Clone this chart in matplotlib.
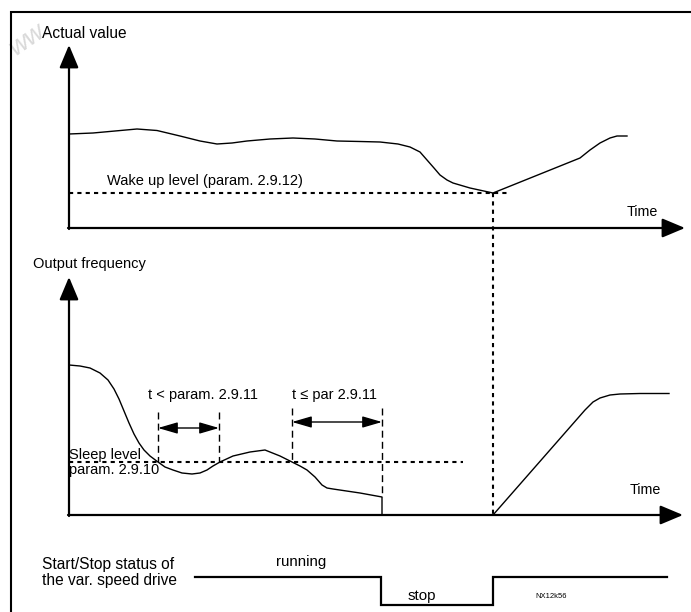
import matplotlib
matplotlib.use("Agg")
import matplotlib.pyplot as plt

plt.rcParams['font.family'] = ['Liberation Sans', 'DejaVu Sans']

# ---------------- data (diagram coordinates, pixel-like units) ----------------
# Actual value curve (top panel)
actual_x = [69, 93, 115, 137, 157, 180, 200, 217, 232, 247, 270, 293, 315, 337, 360, 380,
            398, 410, 420, 427, 434, 440, 447, 453, 470, 493, 580, 590, 600, 610, 617, 627]
actual_y = [134, 133, 131, 129, 130.5, 136, 141, 144, 143, 141, 139, 138, 139, 141, 141.5, 142,
            144, 147, 152, 160, 168, 175, 180, 183, 188, 193, 158, 150, 143, 138, 136, 136]
wake_level = 193
wake_line_end = 510
wake_x = 493

# Output frequency curve (bottom panel)
freq_x = [69, 80, 90, 100, 108, 114, 119, 124, 129, 134, 139, 144, 150, 158, 165, 173, 182,
          192, 200, 207, 213, 220, 233, 250, 265, 280, 292, 300, 307, 315, 322, 327, 333, 360,
          382, 382]
freq_y = [365, 366, 368, 373, 380, 389, 399, 411, 423, 434, 443, 450, 456, 462, 467, 470,
          473, 474, 473, 470, 466, 462, 456, 452, 450, 456, 462, 466, 470, 477, 485, 488, 489,
          493, 497, 515]
sleep_level = 462
sleep_line_end = 463

# Restart ramp after wake-up
ramp_x = [493, 585, 593, 600, 610, 620, 640, 669]
ramp_y = [515, 410, 402, 398, 395, 394, 393.5, 393.5]

# Timing markers
marker_x = [158, 219, 292, 382]
marker_top = [412, 412, 408, 408]
marker_bottom = [462, 462, 462, 497]
arrow1_y = 428
arrow2_y = 422

# Start/Stop status
status_x = [195, 381, 381, 493, 493, 667]
status_y = [577, 577, 605, 605, 577, 577]

# ---------------- figure ----------------
fig = plt.figure(figsize=(6.91, 6.12), dpi=100)
ax = fig.add_axes([0, 0, 1, 1])
ax.set_xlim(0, 691)
ax.set_ylim(612, 0)
ax.axis('off')

# watermark
ax.text(5, 60, "ww.", fontsize=19, color='#d9d9d9', rotation=35, style='italic',
        ha='left', va='bottom', zorder=0)

# frame
ax.plot([11, 11, 691], [612, 12, 12], color='black', lw=1.5, solid_joinstyle='miter')

axis_kw = dict(arrowstyle='-|>,head_length=1.0,head_width=0.42', mutation_scale=14,
               color='black', lw=1.6, shrinkA=0, shrinkB=0)

# top panel axes
ax.annotate('', xy=(69, 45), xytext=(69, 229), arrowprops=axis_kw)
ax.annotate('', xy=(685, 228), xytext=(68, 228), arrowprops=axis_kw)

ax.plot(actual_x, actual_y, color='black', lw=1.0)
ax.plot([69, wake_line_end], [wake_level, wake_level], color='black', lw=1.5,
        linestyle=(0, (2, 2)))
ax.plot([wake_x, wake_x], [wake_level, 515], color='black', lw=1.5, linestyle=(0, (2, 2)))

ax.text(42, 34, "Actual value", fontsize=11.2, ha='left', va='center')
ax.text(107, 181, "Wake up level (param. 2.9.12)", fontsize=10.5, ha='left', va='center')
ax.text(627, 212, "Time", fontsize=10.3, ha='left', va='center')

# bottom panel axes
ax.annotate('', xy=(69, 277), xytext=(69, 516), arrowprops=axis_kw)
ax.annotate('', xy=(683, 515), xytext=(68, 515), arrowprops=axis_kw)

ax.plot(freq_x, freq_y, color='black', lw=1.0)
ax.plot(ramp_x, ramp_y, color='black', lw=1.0)
ax.plot([69, sleep_line_end], [sleep_level, sleep_level], color='black', lw=1.5,
        linestyle=(0, (2, 2)))

for mx, t, b in zip(marker_x, marker_top, marker_bottom):
    ax.plot([mx, mx], [t, b], color='black', lw=1.0, linestyle=(0, (5, 3)))

dbl_kw = dict(arrowstyle='<|-|>,head_length=1.2,head_width=0.35', mutation_scale=10,
              color='black', lw=1.0, shrinkA=0, shrinkB=0)
ax.annotate('', xy=(marker_x[0], arrow1_y), xytext=(marker_x[1], arrow1_y), arrowprops=dbl_kw)
ax.annotate('', xy=(marker_x[2], arrow2_y), xytext=(marker_x[3], arrow2_y), arrowprops=dbl_kw)

ax.text(33, 264, "Output frequency", fontsize=10.5, ha='left', va='center')
ax.text(148, 395, "t < param. 2.9.11", fontsize=10.5, ha='left', va='center')
ax.text(292, 395, "t \u2264 par 2.9.11", fontsize=10.5, ha='left', va='center')
ax.text(69, 455, "Sleep level", fontsize=10.5, ha='left', va='center')
ax.text(69, 470, "param. 2.9.10", fontsize=10.5, ha='left', va='center')
ax.text(630, 490, "Time", fontsize=10.3, ha='left', va='center')

# status line
ax.plot(status_x, status_y, color='black', lw=1.6, solid_joinstyle='miter')
ax.text(42, 564, "Start/Stop status of", fontsize=11.2, ha='left', va='center')
ax.text(42, 580, "the var. speed drive", fontsize=11.2, ha='left', va='center')
ax.text(276, 562, "running", fontsize=10.8, ha='left', va='center')
ax.text(408, 596, "stop", fontsize=10.8, ha='left', va='center')
ax.text(535, 597, "NX12k56", fontsize=5.5, ha='left', va='center')

fig.savefig("out.png", dpi=100)
